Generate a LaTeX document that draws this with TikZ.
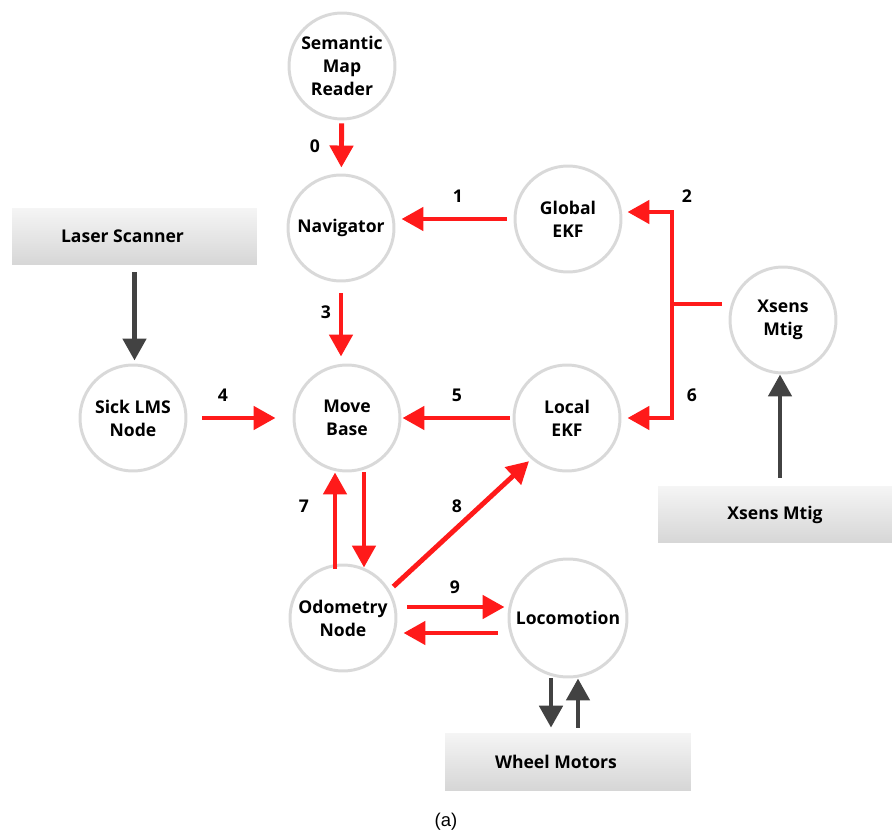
\documentclass[tikz,border=0pt]{standalone}
\usepackage{fontspec}
\setmainfont{Open Sans}
\newfontfamily\capfont{Liberation Sans}
\usetikzlibrary{arrows.meta}
\definecolor{ringgray}{HTML}{D9D9D9}
\definecolor{arrred}{HTML}{FF1A1A}
\definecolor{arrgray}{HTML}{424242}
\begin{document}
\begin{tikzpicture}[x=0.02cm, y=-0.02cm,
        >={Triangle[length=4.4mm, width=4.6mm]},
        proc/.style={circle, draw=ringgray, line width=1.7pt, minimum size=2.12cm, inner sep=0pt,
            align=center, font=\bfseries\fontsize{10}{13}\selectfont},
        hw/.style={rectangle, top color=gray!8, bottom color=gray!32, minimum height=1.14cm,
            font=\bfseries\fontsize{10}{13}\selectfont},
        redarr/.style={->, draw=arrred, line width=2.8pt, shorten <=.1cm, shorten >=.1cm},
        grayarr/.style={->, draw=arrgray, line width=2.8pt, shorten <=.1cm, shorten >=.1cm},
        num/.style={font=\bfseries\fontsize{10}{13}\selectfont}]
    \useasboundingbox (0,0) rectangle (892,834);
    % processes
    \node[proc] (smr) at (342,66) {Semantic\\Map\\Reader};
    \node[proc] (nav) at (341,228) {Navigator};
    \node[proc] (gekf) at (568,219) {Global\\EKF};
    \node[proc] (xs) at (783,320) {Xsens\\Mtig};
    \node[proc] (sick) at (133,418) {Sick LMS\\Node};
    \node[proc] (mb) at (347,418) {Move\\Base};
    \node[proc] (lekf) at (567,418) {Local\\EKF};
    \node[proc] (odo) at (343,618) {Odometry\\Node};
    \node[proc, minimum size=2.36cm] (loco) at (568,618) {Locomotion};
    % hardware
    \node[hw, minimum width=4.9cm] (laser) at (134.5,236.5) {\hspace*{-.48cm}Laser Scanner};
    \node[hw, minimum width=4.68cm] (xsbox) at (775,514.5) {Xsens Mtig};
    \node[hw, minimum width=4.92cm] (wheels) at (568,761.5) {\hspace*{-.48cm}Wheel Motors};
    \coordinate (jt) at (672,304);
    % red links
    \draw[redarr, shorten <=.06cm, shorten >=.12cm] (smr) -- (nav);
    \draw[redarr, shorten <=.14cm, shorten >=.12cm] (gekf.west) -- (gekf.west -| nav.east);
    \draw[draw=arrred, line width=2.8pt, shorten <=.14cm] (xs.west |- jt) -- (jt);
    \draw[redarr, shorten <=0cm, shorten >=.1cm] (jt) |- ([yshift=.14cm]gekf.east);
    \draw[redarr, shorten <=0cm, shorten >=.12cm] (jt) |- (lekf.east);
    \draw[redarr, shorten <=.22cm, shorten >=.14cm] (nav) -- (nav |- mb.north);
    \draw[redarr, shorten <=.3cm, shorten >=.34cm] (sick.east) -- (sick.east -| mb.west);
    \draw[redarr, shorten <=.06cm, shorten >=.02cm] (lekf.west) -- (lekf.west -| mb.east);
    \draw[redarr, shorten <=-.1cm, shorten >=0cm] ([xshift=-.16cm]odo.north) -- ([xshift=-.16cm]odo.north |- mb.south);
    \draw[redarr, shorten <=0cm, shorten >=-.08cm] ([xshift=.34cm]mb.south) -- ([xshift=.34cm]mb.south |- odo.north);
    \draw[redarr, shorten >=.06cm] (odo.31) -- (lekf.229);
    \draw[redarr, shorten <=.2cm, shorten >=.06cm] ([yshift=.22cm]odo.east) -- ([yshift=.22cm]odo.east -| loco.west);
    \draw[redarr, shorten <=.2cm, shorten >=.12cm] ([yshift=-.3cm]loco.west) -- ([yshift=-.3cm]loco.west -| odo.east);
    % gray links
    \draw[grayarr, shorten <=.14cm, shorten >=.06cm] (laser) -- (laser |- sick.north);
    \draw[grayarr, shorten <=.16cm, shorten >=0cm] ([xshift=.1cm]xsbox.north) -- ([xshift=.1cm]xsbox.north |- xs.south);
    \draw[grayarr, shorten <=0cm] ([xshift=-.34cm]loco.south) -- ([xshift=-.34cm]loco.south |- wheels.north);
    \draw[grayarr, shorten >=0cm] ([xshift=.2cm]wheels.north) -- ([xshift=.2cm]wheels.north |- loco.south);
    % numbers
    \node[num] (n0) at (315,146) {0};
    \node[num] (n1) at (458,196) {1};
    \node[num] (n2) at (687,196) {2};
    \node[num] (n3) at (326,312) {3};
    \node[num] (n4) at (223,395) {4};
    \node[num] (n5) at (457,395) {5};
    \node[num] (n6) at (692,395) {6};
    \node[num] (n7) at (304,506) {7};
    \node[num] (n8) at (457,506) {8};
    \node[num] (n9) at (455,587) {9};
    \node[font=\capfont\fontsize{10.5}{12}\selectfont] (cap) at (446,822) {(a)};
\end{tikzpicture}
\end{document}
